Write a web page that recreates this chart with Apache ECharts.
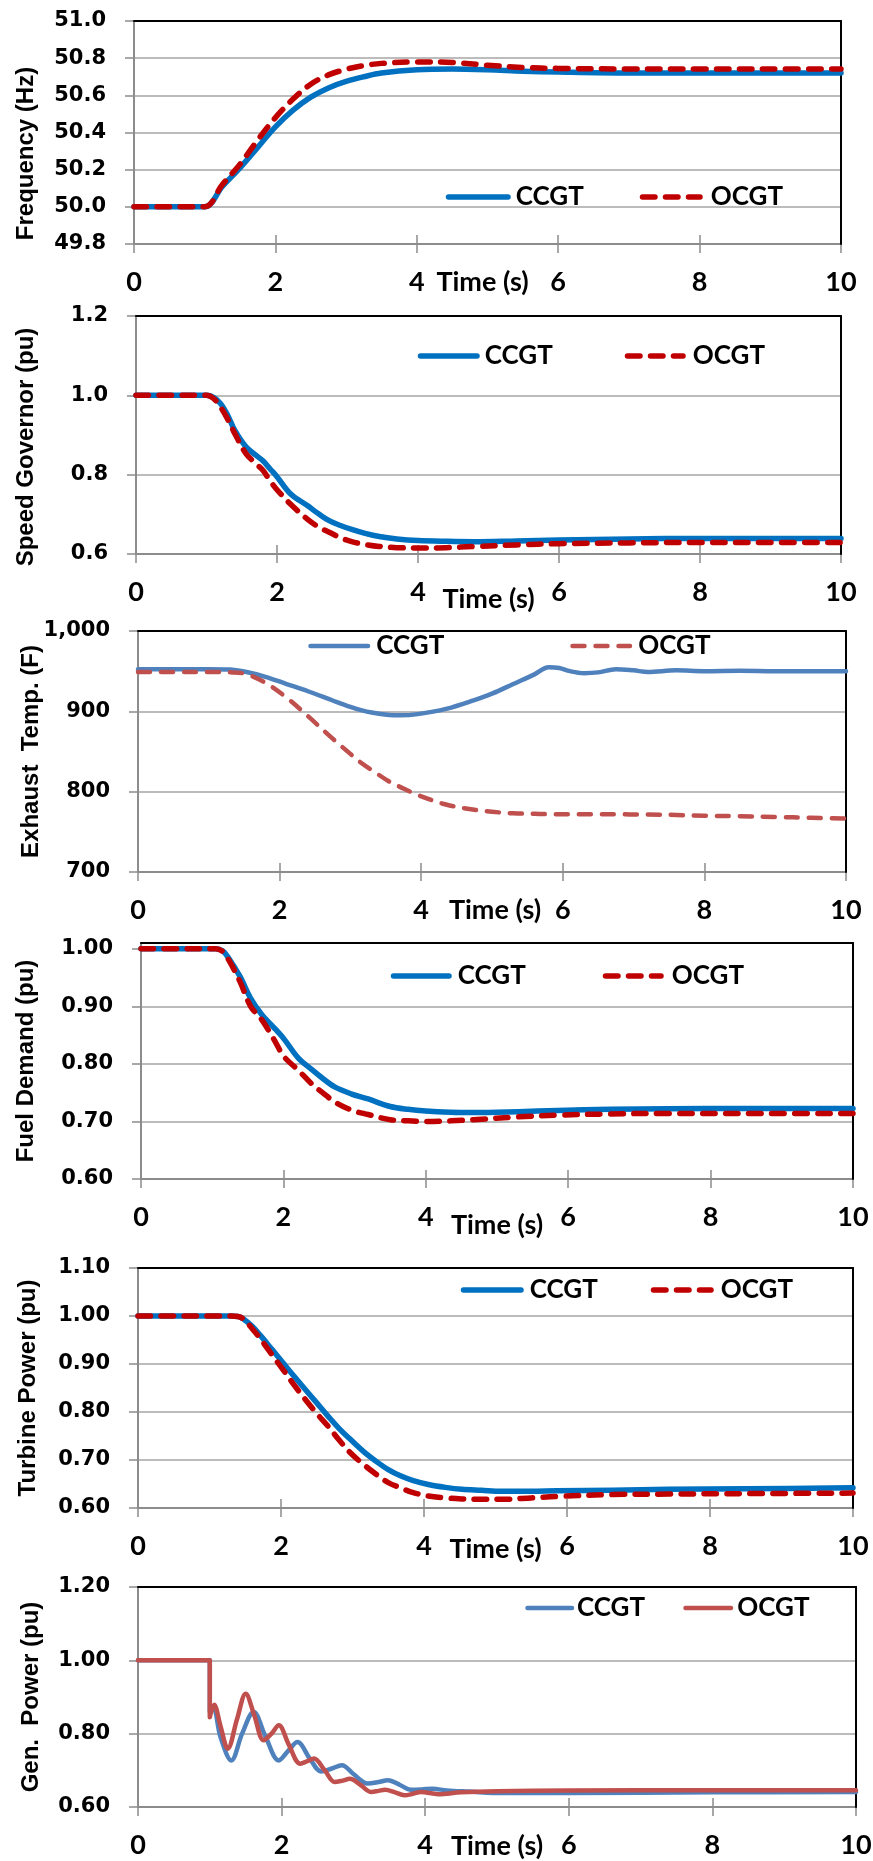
<!DOCTYPE html>
<html><head><meta charset="utf-8">
<script src="https://cdn.jsdelivr.net/npm/echarts@6/dist/echarts.min.js"></script>
<style>html,body{margin:0;padding:0;background:#fff}#c{width:873px;height:1861px}</style>
</head><body><div id="c"></div>
<script>
// ---------- data ----------
const timeTicks = [0, 2, 4, 6, 8, 10];

const freqTicks = [49.8, 50.0, 50.2, 50.4, 50.6, 50.8, 51.0];
const freqTime = [0, 0.5, 1.0, 1.25, 1.5, 1.75, 2.0, 2.25, 2.5, 2.75, 3.0, 3.25, 3.5, 4.0, 4.5, 5.0, 5.5, 6.0, 7.0, 8.0, 9.0, 10.0];
const freqCCGT = [50.0, 50.0, 50.0, 50.11, 50.21, 50.32, 50.43, 50.52, 50.59, 50.64, 50.675, 50.70, 50.72, 50.738, 50.742, 50.738, 50.73, 50.725, 50.72, 50.72, 50.72, 50.72];
const freqOCGT = [50.0, 50.0, 50.0, 50.12, 50.23, 50.36, 50.48, 50.58, 50.66, 50.71, 50.74, 50.76, 50.772, 50.78, 50.777, 50.762, 50.75, 50.745, 50.742, 50.742, 50.742, 50.742];

const govTicks = [0.6, 0.8, 1.0, 1.2];
const govTime = [0, 0.5, 1.0, 1.1, 1.2, 1.3, 1.4, 1.56, 1.7, 1.8, 1.9, 2.0, 2.19, 2.43, 2.6, 2.74, 2.9, 3.06, 3.25, 3.45, 3.7, 4.0, 4.4, 4.8, 5.4, 6.0, 7.0, 8.0, 9.0, 10.0];
const govCCGT = [1.0, 1.0, 1.0, 0.995, 0.979, 0.95, 0.912, 0.870, 0.849, 0.835, 0.815, 0.795, 0.752, 0.722, 0.70, 0.684, 0.672, 0.662, 0.652, 0.644, 0.638, 0.634, 0.632, 0.631, 0.633, 0.635, 0.638, 0.639, 0.639, 0.639];
const govOCGT = [1.0, 1.0, 1.0, 0.992, 0.97, 0.94, 0.904, 0.853, 0.828, 0.811, 0.785, 0.762, 0.726, 0.688, 0.667, 0.655, 0.641, 0.631, 0.624, 0.619, 0.616, 0.615, 0.616, 0.619, 0.623, 0.626, 0.628, 0.629, 0.629, 0.629];

const exhTicks = [700, 800, 900, 1000];
const exhTime = [0, 0.5, 1.0, 1.3, 1.5, 1.8, 2.1, 2.4, 2.75, 3.0, 3.15, 3.3, 3.55, 3.7, 3.95, 4.35, 4.75, 5.0, 5.3, 5.6, 5.8, 5.95, 6.1, 6.3, 6.5, 6.75, 7.0, 7.2, 7.6, 8.0, 8.5, 9.0, 9.5, 10.0];
const exhCCGT = [952.5, 952.5, 952.5, 952, 949.5, 943, 934, 925, 913.5, 905.5, 901.5, 898.5, 895.5, 895, 896.5, 903, 914, 922, 934, 946, 955, 954, 950, 947.5, 948.5, 952.5, 951, 949, 951, 950, 950.5, 950, 950, 950];
const exhOCGT = [949, 949, 949, 948.5, 947, 935.5, 917, 894, 866, 847, 836, 827, 812.5, 806, 796, 784, 777.5, 775, 773, 772.5, 772, 772, 772, 772, 772, 772, 771.5, 771.5, 771, 770, 769.5, 768.5, 767.5, 766.5];

const fuelTicks = [0.6, 0.7, 0.8, 0.9, 1.0];
const fuelTime = [0, 0.5, 1.05, 1.15, 1.23, 1.39, 1.54, 1.7, 1.86, 2.01, 2.21, 2.4, 2.55, 2.72, 2.95, 3.19, 3.5, 3.75, 4.0, 4.35, 4.67, 5.3, 5.85, 6.6, 7.4, 8.5, 10.0];
const fuelCCGT = [1.0, 1.0, 1.0, 0.996, 0.984, 0.952, 0.914, 0.885, 0.864, 0.843, 0.81, 0.79, 0.775, 0.76, 0.748, 0.739, 0.726, 0.721, 0.718, 0.716, 0.7155, 0.717, 0.719, 0.721, 0.722, 0.7225, 0.7225];
const fuelOCGT = [1.0, 1.0, 1.0, 0.995, 0.981, 0.943, 0.90, 0.876, 0.844, 0.8125, 0.789, 0.765, 0.75, 0.734, 0.72, 0.712, 0.703, 0.701, 0.700, 0.701, 0.703, 0.708, 0.711, 0.713, 0.714, 0.714, 0.714];

const turbTicks = [0.6, 0.7, 0.8, 0.9, 1.0, 1.1];
const turbTime = [0, 0.5, 1.0, 1.3, 1.4, 1.48, 1.6, 1.72, 1.87, 2.03, 2.18, 2.34, 2.5, 2.66, 2.81, 2.97, 3.16, 3.36, 3.5, 3.67, 3.85, 4.06, 4.3, 4.53, 4.8, 5.08, 5.5, 5.86, 6.64, 7.42, 8.5, 10.0];
const turbCCGT = [1.0, 1.0, 1.0, 1.0, 0.999, 0.993, 0.978, 0.958, 0.931, 0.902, 0.875, 0.847, 0.819, 0.791, 0.766, 0.743, 0.717, 0.694, 0.680, 0.667, 0.657, 0.649, 0.643, 0.639, 0.637, 0.635, 0.635, 0.636, 0.637, 0.639, 0.640, 0.642];
const turbOCGT = [1.0, 1.0, 1.0, 1.0, 0.999, 0.993, 0.973, 0.951, 0.92, 0.888, 0.857, 0.826, 0.797, 0.77, 0.742, 0.715, 0.69, 0.667, 0.653, 0.642, 0.632, 0.625, 0.621, 0.619, 0.618, 0.618, 0.621, 0.624, 0.628, 0.629, 0.630, 0.631];

const genTicks = [0.6, 0.8, 1.0, 1.2];
const genTimeCCGT = [0, 0.5, 1.0, 1.0, 1.05, 1.15, 1.3, 1.45, 1.61, 1.78, 1.96, 2.1, 2.22, 2.4, 2.55, 2.7, 2.84, 3.0, 3.2, 3.35, 3.48, 3.65, 3.8, 3.95, 4.1, 4.3, 4.6, 5.1, 6.0, 8.0, 10.0];
const genCCGT = [1.0, 1.0, 1.0, 0.86, 0.87, 0.79, 0.727, 0.80, 0.859, 0.79, 0.727, 0.755, 0.777, 0.73, 0.697, 0.705, 0.714, 0.69, 0.664, 0.668, 0.673, 0.66, 0.647, 0.648, 0.65, 0.645, 0.642, 0.638, 0.638, 0.640, 0.641];
const genTimeOCGT = [0, 0.5, 1.0, 1.0, 1.06, 1.15, 1.25, 1.38, 1.5, 1.62, 1.75, 1.86, 1.96, 2.1, 2.26, 2.36, 2.45, 2.6, 2.74, 2.85, 2.95, 3.1, 3.25, 3.35, 3.44, 3.58, 3.71, 3.83, 3.94, 4.18, 4.5, 5.0, 6.0, 8.0, 10.0];
const genOCGT = [1.0, 1.0, 1.0, 0.845, 0.879, 0.82, 0.759, 0.84, 0.909, 0.85, 0.782, 0.80, 0.823, 0.77, 0.718, 0.725, 0.732, 0.70, 0.668, 0.672, 0.677, 0.66, 0.641, 0.644, 0.647, 0.64, 0.632, 0.636, 0.641, 0.635, 0.640, 0.643, 0.645, 0.646, 0.646];

// ---------- layout / styles ----------
const zip = (t, v) => t.map((x, i) => [x, v[i]]);
const BLUE = '#0070C0', RED = '#C00000', BLUE2 = '#4F81BD', RED2 = '#C0504D';
const AXIS_GRAY = '#8c8c8c', GRID_GRAY = '#a6a6a6';

const panels = [
  { box: [134, 21, 841, 244], ticks: freqTicks, dec: 1, title: 'Frequency (Hz)', tx: 26, ts: 21, nameGap: 38, nameShift: -5,
    series: [{ name: 'CCGT', t: freqTime, v: freqCCGT, color: BLUE, w: 5.5, dash: null },
             { name: 'OCGT', t: freqTime, v: freqOCGT, color: RED, w: 5.5, dash: [12.5, 10.5] }],
    legend: [[443, 508, 513], [637, 700, 708]], cy: 197 },
  { box: [136, 316, 841, 554], ticks: govTicks, dec: 1, title: 'Speed Governor (pu)', tx: 26.5, ts: 12, nameGap: 45, nameShift: 0,
    series: [{ name: 'CCGT', t: govTime, v: govCCGT, color: BLUE, w: 5.5, dash: null },
             { name: 'OCGT', t: govTime, v: govOCGT, color: RED, w: 5.5, dash: [12.5, 10.5] }],
    legend: [[415, 477, 482], [622, 683, 690]], cy: 356 },
  { box: [138, 631, 846, 872], ticks: exhTicks, dec: 0, sep: true, title: 'Exhaust  Temp. (F)', tx: 31, ts: 0, nameGap: 38, nameShift: 3,
    series: [{ name: 'CCGT', t: exhTime, v: exhCCGT, color: BLUE2, w: 4.5, dash: null },
             { name: 'OCGT', t: exhTime, v: exhOCGT, color: RED2, w: 4.5, dash: [12, 11] }],
    legend: [[306, 368, 374], [568, 630, 636]], cy: 646 },
  { box: [141, 943, 853, 1179], ticks: fuelTicks, dec: 2, max: 1.01, title: 'Fuel Demand (pu)', tx: 26.5, ts: 0, nameGap: 46, nameShift: 0,
    series: [{ name: 'CCGT', t: fuelTime, v: fuelCCGT, color: BLUE, w: 5.5, dash: null },
             { name: 'OCGT', t: fuelTime, v: fuelOCGT, color: RED, w: 5.5, dash: [12.5, 10.5] }],
    legend: [[388, 449, 455], [600, 661, 669]], cy: 976 },
  { box: [138, 1268, 853, 1508], ticks: turbTicks, dec: 2, title: 'Turbine Power (pu)', tx: 28.5, ts: 0, nameGap: 41, nameShift: 0,
    series: [{ name: 'CCGT', t: turbTime, v: turbCCGT, color: BLUE, w: 5.5, dash: null },
             { name: 'OCGT', t: turbTime, v: turbOCGT, color: RED, w: 5.5, dash: [12.5, 10.5] }],
    legend: [[458, 521, 527], [648, 711, 718]], cy: 1290 },
  { box: [138, 1587, 856, 1807], ticks: genTicks, dec: 2, title: 'Gen.  Power (pu)', tx: 31, ts: 0, nameGap: 39, nameShift: 0,
    series: [{ name: 'CCGT', t: genTimeCCGT, v: genCCGT, color: BLUE2, w: 4.5, dash: null },
             { name: 'OCGT', t: genTimeOCGT, v: genOCGT, color: RED2, w: 4.5, dash: null }],
    legend: [[523, 572, 574], [681, 731, 735]], cy: 1608 }
];

const option = { backgroundColor: '#fff', animation: false, grid: [], xAxis: [], yAxis: [], legend: [], series: [] };
const step = a => Math.round((a[1] - a[0]) * 1e6) / 1e6;
const fmt = (v, dec, sep) => { const s = Number(v).toFixed(dec); return sep ? s.replace(/\B(?=(\d{3})+(?!\d))/g, ',') : s; };

panels.forEach((p, i) => {
  const [l, t, r, b] = p.box;
  option.grid.push({ left: l, top: t, width: r - l, height: b - t, containLabel: false, outerBoundsMode: 'none' });
  const xBase = { type: 'value', gridIndex: i, min: timeTicks[0], max: timeTicks[timeTicks.length - 1], interval: step(timeTicks), splitLine: { show: false } };
  const xi = option.xAxis.length;
  option.xAxis.push(Object.assign({}, xBase, {
    position: 'bottom',
    axisLine: { show: true, onZero: false, lineStyle: { color: AXIS_GRAY, width: 2 } },
    axisTick: { show: true, inside: false, length: 9, lineStyle: { color: AXIS_GRAY, width: 1.5 } },
    axisLabel: { show: true, margin: 38, verticalAlign: 'middle', fontFamily: 'Lato', fontWeight: 'bold', fontSize: 27, color: '#000' },
    name: 'Time (s)', nameLocation: 'middle', nameGap: p.nameGap, nameMoveOverlap: false,
    nameTextStyle: { fontFamily: 'Lato', fontWeight: 'bold', fontSize: 27, color: '#000', verticalAlign: 'middle',
      padding: p.nameShift < 0 ? [0, -2 * p.nameShift, 0, 0] : [0, 0, 0, 2 * p.nameShift] }
  }));
  option.xAxis.push(Object.assign({}, xBase, {
    position: 'bottom', axisLine: { show: false },
    axisTick: { show: true, inside: true, length: 9, lineStyle: { color: AXIS_GRAY, width: 1.5 } },
    axisLabel: { show: false }
  }));
  option.xAxis.push(Object.assign({}, xBase, {
    position: 'top', z: 2, axisLine: { show: true, onZero: false, lineStyle: { color: '#000', width: 2 } },
    axisTick: { show: false }, axisLabel: { show: false }
  }));
  const ymin = p.ticks[0], ymax = p.max != null ? p.max : p.ticks[p.ticks.length - 1];
  const yi = option.yAxis.length;
  option.yAxis.push({
    type: 'value', gridIndex: i, position: 'left', min: ymin, max: ymax, interval: step(p.ticks),
    axisLine: { show: true, onZero: false, lineStyle: { color: AXIS_GRAY, width: 2 } },
    axisTick: { show: true, length: 9, customValues: p.ticks, lineStyle: { color: AXIS_GRAY, width: 1.5 } },
    axisLabel: { show: true, margin: 28, customValues: p.ticks, fontFamily: "'DejaVu Sans'", fontWeight: 'bold', fontSize: 21, color: '#000',
      formatter: v => fmt(v, p.dec, p.sep) },
    splitLine: { show: true, showMinLine: false, showMaxLine: false, lineStyle: { color: GRID_GRAY, width: 1.5 } },
    name: p.title, nameLocation: 'middle', nameRotate: 90, nameGap: l - p.tx, nameMoveOverlap: false,
    nameTextStyle: { fontFamily: "'Liberation Sans'", fontWeight: 'bold', fontSize: 24, color: '#000', verticalAlign: 'middle',
      padding: [0, 2 * p.ts, 0, 0] }
  });
  option.yAxis.push({
    type: 'value', gridIndex: i, position: 'right', z: 2, min: ymin, max: ymax, interval: step(p.ticks),
    axisLine: { show: true, onZero: false, lineStyle: { color: '#000', width: 2 } },
    axisTick: { show: false }, axisLabel: { show: false }, splitLine: { show: false }
  });
  p.series.forEach((s, k) => {
    const key = s.name + '|' + i;
    option.series.push({
      type: 'line', name: key, xAxisIndex: xi, yAxisIndex: yi, data: zip(s.t, s.v),
      showSymbol: false, symbol: 'none', smooth: 0.35, z: 3 + k,
      lineStyle: { color: s.color, width: s.w, type: s.dash || 'solid', cap: 'round', join: 'round' },
      itemStyle: { color: s.color }
    });
    const [xs, xe, xt] = p.legend[k];
    const left = xs + s.w / 2, iw = xe - xs - s.w;
    const pad = Math.max(0, xt - (left + iw + 5));
    option.legend.push({
      left: left, top: p.cy - 13, padding: 0, itemWidth: iw, itemHeight: 14, selectedMode: false,
      data: [key], formatter: n => n.split('|')[0],
      lineStyle: { width: s.w }, itemStyle: { opacity: 0 },
      textStyle: { fontFamily: 'Lato', fontWeight: 'bold', fontSize: 26, color: '#000', lineHeight: 26, padding: [0, 0, 0, pad] }
    });
  });
});

const chart = echarts.init(document.getElementById('c'), null, { renderer: 'canvas', width: 873, height: 1861 });
chart.setOption(option);
</script>
</body></html>
